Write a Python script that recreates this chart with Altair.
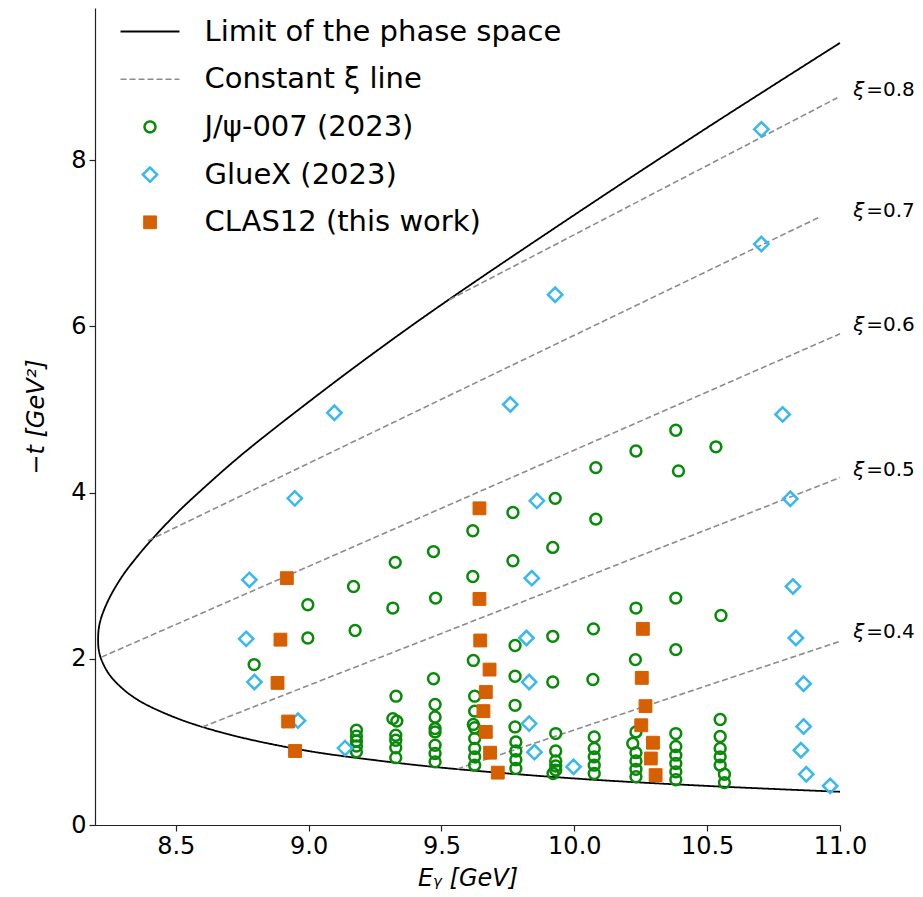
import altair as alt
import pandas as pd

# ---- series names ----
S_LIMIT = "Limit of the phase space"
S_XI = "Constant ξ line"
S_JPSI = "J/ψ-007 (2023)"
S_GLUEX = "GlueX (2023)"
S_CLAS = "CLAS12 (this work)"
SERIES = [S_LIMIT, S_XI, S_JPSI, S_GLUEX, S_CLAS]

# ---- phase-space boundary: upper branch (11 GeV -> threshold), then lower branch back out ----
curve_E = [11.0, 10.5, 10.0, 9.5, 9.25, 9.0, 8.75, 8.6, 8.5, 8.4, 8.35, 8.3, 8.25, 8.22, 8.21, 8.2078,
           8.21, 8.22, 8.25, 8.3, 8.35, 8.4, 8.5, 8.6, 8.75, 9.0, 9.25, 9.5, 10.0, 10.5, 11.0]
curve_t = [9.41, 8.39, 7.34, 6.26, 5.69, 5.09, 4.46, 4.04, 3.74, 3.40, 3.21, 3.00, 2.73, 2.50, 2.36, 2.23,
           2.11, 1.99, 1.81, 1.64, 1.52, 1.43, 1.29, 1.18, 1.05, 0.89, 0.78, 0.69, 0.56, 0.47, 0.40]

# ---- constant-xi lines (start / end) and their labels ----
xi_names = ["0.4", "0.5", "0.6", "0.7", "0.8"]
xi_E_start = [9.56, 8.60, 8.22, 8.395, 9.53]
xi_t_start = [0.675, 1.18, 2.02, 3.42, 6.32]
xi_E_end = [11.0, 11.0, 11.0, 10.92, 10.99]
xi_t_end = [2.21, 4.18, 5.91, 7.31, 8.75]
xi_label_E = [11.05, 11.05, 11.05, 11.05, 11.05]
xi_label_t = [2.32, 4.27, 6.01, 7.39, 8.84]

# ---- J/psi-007 (2023) ----
jpsi_E = [
    8.795,
    8.997, 8.997,
    9.169, 9.175,
    9.18, 9.18, 9.18, 9.18, 9.18,
    9.326, 9.317, 9.329, 9.317, 9.332, 9.328, 9.328, 9.328, 9.328,
    9.470, 9.478, 9.470, 9.476, 9.476, 9.476, 9.476, 9.476, 9.476, 9.476,
    9.618, 9.618, 9.620, 9.625, 9.625, 9.620, 9.625, 9.625, 9.625, 9.625, 9.625,
    9.769, 9.769, 9.777, 9.777, 9.777, 9.777, 9.780, 9.780, 9.780, 9.780,
    9.928, 9.919, 9.919, 9.919, 9.930, 9.930, 9.930, 9.930, 9.930, 9.920,
    10.081, 10.081, 10.072, 10.070, 10.075, 10.075, 10.075, 10.075, 10.075,
    10.232, 10.232, 10.230, 10.232, 10.220, 10.232, 10.232, 10.232, 10.232,
    10.382, 10.392, 10.382, 10.382, 10.382, 10.382, 10.382, 10.382, 10.382, 10.382,
    10.533, 10.552, 10.549, 10.549, 10.549, 10.549, 10.549, 10.565, 10.565,
]
jpsi_t = [
    1.93,
    2.65, 2.25,
    2.87, 2.34,
    1.14, 1.07, 1.01, 0.95, 0.88,
    3.16, 2.61, 1.55, 1.28, 1.25, 1.08, 1.02, 0.93, 0.81,
    3.29, 2.73, 1.76, 1.45, 1.30, 1.16, 1.12, 0.96, 0.86, 0.76,
    3.54, 2.99, 1.98, 1.55, 1.37, 1.21, 1.17, 1.04, 0.92, 0.82, 0.72,
    3.76, 3.18, 2.16, 1.79, 1.44, 1.18, 1.00, 0.89, 0.785, 0.68,
    3.93, 3.34, 2.27, 1.72, 1.10, 0.89, 0.77, 0.71, 0.66, 0.62,
    4.30, 3.68, 2.36, 1.75, 1.06, 0.92, 0.82, 0.72, 0.62,
    4.50, 2.61, 1.99, 1.12, 0.98, 0.87, 0.77, 0.67, 0.58,
    4.75, 4.26, 2.73, 2.11, 1.10, 0.945, 0.84, 0.74, 0.64, 0.545,
    4.55, 2.52, 1.27, 1.065, 0.92, 0.82, 0.72, 0.61, 0.51,
]

# ---- GlueX (2023) ----
gluex_E = [10.704, 10.704, 9.928, 9.097, 9.759, 10.784, 8.948, 9.859, 10.813, 8.777, 9.840, 10.823,
           8.765, 9.820, 10.834, 8.796, 9.830, 10.863, 8.960, 9.830, 10.863, 9.137, 9.850, 10.853,
           9.997, 10.873, 10.963]
gluex_t = [8.37, 6.99, 6.38, 4.96, 5.06, 4.94, 3.93, 3.90, 3.925, 2.95, 2.97, 2.87,
           2.24, 2.25, 2.25, 1.72, 1.72, 1.70, 1.255, 1.22, 1.185, 0.925, 0.876, 0.90,
           0.70, 0.61, 0.47]

# ---- CLAS12 (this work) ----
clas_E = [8.918, 8.894, 8.883, 8.923, 8.949, 9.643, 9.643, 9.646, 9.681, 9.667, 9.658, 9.667,
          9.683, 9.712, 10.258, 10.254, 10.268, 10.252, 10.296, 10.288, 10.306]
clas_t = [2.97, 2.23, 1.71, 1.245, 0.89, 3.81, 2.72, 2.22, 1.87, 1.60, 1.37, 1.12,
          0.87, 0.63, 2.36, 1.77, 1.43, 1.20, 0.99, 0.80, 0.60]

# ---- tables ----
line_rows = []
for i, (e, t) in enumerate(zip(curve_E, curve_t)):
    line_rows.append({"series": S_LIMIT, "grp": "limit", "E": e, "t": t, "ord": i})
for name, e0, t0, e1, t1 in zip(xi_names, xi_E_start, xi_t_start, xi_E_end, xi_t_end):
    line_rows.append({"series": S_XI, "grp": "xi" + name, "E": e0, "t": t0, "ord": 0})
    line_rows.append({"series": S_XI, "grp": "xi" + name, "E": e1, "t": t1, "ord": 1})
lines_df = pd.DataFrame(line_rows)

points_df = pd.concat([
    pd.DataFrame({"series": S_JPSI, "E": jpsi_E, "t": jpsi_t}),
    pd.DataFrame({"series": S_GLUEX, "E": gluex_E, "t": gluex_t}),
    pd.DataFrame({"series": S_CLAS, "E": clas_E, "t": clas_t}),
], ignore_index=True)

labels_df = pd.DataFrame({"E": xi_label_E, "t": xi_label_t,
                          "val": ["=" + n for n in xi_names]})

# ---- shared scales (one merged legend) ----
GREEN = "#0a8a0a"
BLUE = "#38b8ee"
ORANGE = "#d65f00"
# a long horizontal stroke for the line entries of the legend
LEGEND_LINE = "M-4,0L4,0"
stroke_scale = alt.Scale(domain=SERIES, range=["#000000", "#8c8c8c", GREEN, BLUE, ORANGE])
fill_scale = alt.Scale(domain=SERIES, range=["transparent", "transparent", "transparent", "transparent", ORANGE])
shape_scale = alt.Scale(domain=SERIES, range=[LEGEND_LINE, LEGEND_LINE, "circle", "diamond", "square"])
dash_scale = alt.Scale(domain=SERIES, range=[[1, 0], [6, 3], [1, 0], [1, 0], [1, 0]])
size_scale = alt.Scale(type="ordinal", domain=SERIES, range=[217, 217, 118, 205, 165])
width_scale = alt.Scale(type="ordinal", domain=SERIES, range=[1.8, 1.6, 2.5, 2.5, 1.0])

leg = alt.Legend(
    title=None, orient="none", legendX=40.5, legendY=9, padding=0,
    labelFont="DejaVu Sans", labelFontSize=29, labelColor="black", labelLimit=600,
    labelOffset=40, symbolOffset=0, rowPadding=17.7,
)

x_enc = alt.X("E:Q", scale=alt.Scale(domain=[8.196, 11.0], nice=False, zero=False),
              axis=alt.Axis(values=[8.5, 9.0, 9.5, 10.0, 10.5, 11.0], format=".1f",
                            title="Eᵧ [GeV]", labelFlush=False))
y_enc = alt.Y("t:Q", scale=alt.Scale(domain=[0, 9.83], nice=False, zero=False),
              axis=alt.Axis(values=[0, 2, 4, 6, 8], format="d", title="−t [GeV²]"))

lines = alt.Chart(lines_df).mark_line(interpolate="catmull-rom").encode(
    x=x_enc, y=y_enc,
    detail="grp:N",
    order="ord:Q",
    stroke=alt.Stroke("series:N", scale=stroke_scale, legend=leg),
    strokeDash=alt.StrokeDash("series:N", scale=dash_scale, legend=leg),
    strokeWidth=alt.StrokeWidth("series:N", scale=width_scale, legend=leg),
)

points = alt.Chart(points_df).mark_point(filled=False, opacity=1).encode(
    x=x_enc, y=y_enc,
    stroke=alt.Stroke("series:N", scale=stroke_scale, legend=leg),
    fill=alt.Fill("series:N", scale=fill_scale, legend=leg),
    shape=alt.Shape("series:N", scale=shape_scale, legend=leg),
    size=alt.Size("series:N", scale=size_scale, legend=leg),
    strokeWidth=alt.StrokeWidth("series:N", scale=width_scale, legend=leg),
)

xi_sym = alt.Chart(labels_df).mark_text(
    align="left", baseline="middle", font="DejaVu Sans", fontSize=20,
    fontStyle="italic", color="black",
).encode(x=x_enc, y=y_enc, text=alt.value("ξ"))

xi_val = alt.Chart(labels_df).mark_text(
    align="left", baseline="middle", font="DejaVu Sans", fontSize=20,
    color="black", dx=13,
).encode(x=x_enc, y=y_enc, text="val:N")

chart = alt.layer(lines, points, xi_sym, xi_val).properties(
    width=745, height=817,
    padding={"left": 95, "top": 8, "right": 83, "bottom": 72},
    autosize=alt.AutoSizeParams(type="none"),
).configure_view(
    stroke=None
).configure_axis(
    grid=False, domainColor="#222222", domainWidth=1.2, tickColor="#222222",
    tickWidth=1.2, tickSize=6, labelPadding=3,
    labelFont="DejaVu Sans", labelFontSize=24, labelColor="black",
    titleFont="DejaVu Sans", titleFontSize=24, titleFontStyle="italic",
    titleFontWeight="normal", titleColor="black",
).configure_axisX(
    titlePadding=8
).configure_axisY(
    titlePadding=22
).configure_legend(
    symbolFillColor="transparent"
)

chart.save("out.html", embed_options={"renderer": "svg", "actions": False})
